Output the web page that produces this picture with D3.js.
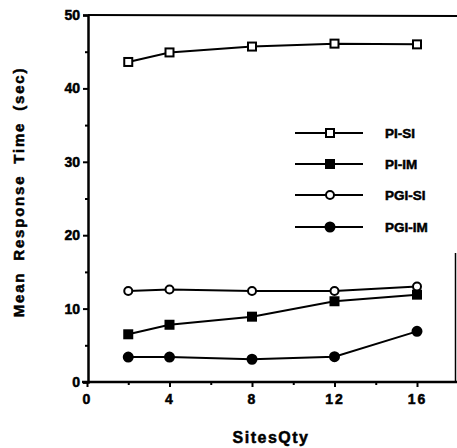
<!DOCTYPE html>
<html><head><meta charset="utf-8">
<script src="https://cdn.jsdelivr.net/npm/d3@7"></script>
<style>body{margin:0;background:#fff}svg{display:block}text{font-family:"Liberation Sans",Arial,sans-serif;font-weight:bold;fill:#000;stroke:#000;stroke-width:0.5}</style>
</head><body>
<svg id="c" width="457" height="448"></svg>
<script>
const sites = [2, 4, 8, 12, 16];
const piSI  = [43.6, 44.9, 45.7, 46.1, 46.0];
const piIM  = [6.5, 7.8, 8.9, 11.0, 11.9];
const pgiSI = [12.4, 12.6, 12.4, 12.4, 13.0];
const pgiIM = [3.4, 3.4, 3.1, 3.45, 6.9];
const seriesNames = ["PI-SI", "PI-IM", "PGI-SI", "PGI-IM"];
const xTicks = [0, 4, 8, 12, 16];
const yTicks = [0, 10, 20, 30, 40, 50];

const series = [
  {name: seriesNames[0], vals: piSI,  shape: "square", fill: "#fff"},
  {name: seriesNames[1], vals: piIM,  shape: "square", fill: "#000"},
  {name: seriesNames[2], vals: pgiSI, shape: "circle", fill: "#fff"},
  {name: seriesNames[3], vals: pgiIM, shape: "circle", fill: "#000"}
];

const svg = d3.select("#c");
const x = d3.scaleLinear().domain([0, 16]).range([87, 417]);
const y = d3.scaleLinear().domain([0, 50]).range([382, 15]);

// frame top & right
svg.append("line").attr("x1", 88).attr("x2", 457).attr("y1", 15).attr("y2", 16).attr("stroke", "#000").attr("stroke-width", 2);
svg.append("line").attr("x1", 455.5).attr("x2", 455.5).attr("y1", 253).attr("y2", 382).attr("stroke", "#000").attr("stroke-width", 1.5);

// y axis
const gy = svg.append("g").attr("transform", "translate(88,0)")
  .call(d3.axisLeft(y).tickValues(yTicks).tickSize(5).tickPadding(3));
gy.select(".domain").attr("stroke-width", 2.5);
gy.selectAll(".tick line").attr("stroke-width", 2);
gy.selectAll(".tick text").attr("font-size", 14).attr("font-family", "Liberation Sans").attr("font-weight", "bold");
svg.append("g").attr("transform", "translate(88,0)")
  .call(d3.axisLeft(y).tickValues([5, 15, 25, 35, 45]).tickSize(3).tickFormat(""))
  .call(g => g.select(".domain").remove())
  .selectAll("line").attr("stroke-width", 2);

// x axis
const gx = svg.append("g").attr("transform", "translate(0,382)")
  .call(d3.axisBottom(x).tickValues(xTicks).tickSize(5).tickPadding(7));
gx.select(".domain").remove();
gx.selectAll(".tick line").attr("stroke-width", 2);
gx.selectAll(".tick text").attr("font-size", 14).attr("font-family", "Liberation Sans").attr("font-weight", "bold").attr("letter-spacing", 2);
svg.append("line").attr("x1", 82).attr("x2", 457).attr("y1", 382).attr("y2", 382).attr("stroke", "#000").attr("stroke-width", 2.5);
svg.append("g").attr("transform", "translate(0,382)")
  .call(d3.axisBottom(x).tickValues([2, 6, 10, 14]).tickSize(3).tickFormat(""))
  .call(g => g.select(".domain").remove())
  .selectAll("line").attr("stroke-width", 2);

// axis titles
svg.append("text").attr("x", 271).attr("y", 443).attr("text-anchor", "middle").attr("font-size", 16).attr("letter-spacing", 1.5).text("SitesQty");
svg.append("text").attr("transform", "translate(24,192) rotate(-90)").attr("text-anchor", "middle").attr("font-size", 15).attr("letter-spacing", 1.8).attr("word-spacing", 5).text("Mean Response Time (sec)");

function marker(g, s, cx, cy) {
  if (s.shape === "square") {
    g.append("rect").attr("x", cx - 4).attr("y", cy - 4).attr("width", 8).attr("height", 8)
      .attr("fill", s.fill).attr("stroke", "#000").attr("stroke-width", 2);
  } else {
    g.append("circle").attr("cx", cx).attr("cy", cy).attr("r", s.fill === "#000" ? 4.5 : 4)
      .attr("fill", s.fill).attr("stroke", "#000").attr("stroke-width", 2);
  }
}

const line = d3.line().x(d => x(d[0])).y(d => y(d[1]));
series.forEach(s => {
  const pts = sites.map((v, i) => [v, s.vals[i]]);
  svg.append("path").attr("d", line(pts)).attr("fill", "none").attr("stroke", "#000").attr("stroke-width", 2);
  const g = svg.append("g");
  pts.forEach(p => marker(g, s, x(p[0]), y(p[1])));
});

// legend
const legY = [133, 164, 195, 227];
series.forEach((s, i) => {
  const g = svg.append("g");
  g.append("line").attr("x1", 295).attr("x2", 363).attr("y1", legY[i]).attr("y2", legY[i]).attr("stroke", "#000").attr("stroke-width", 2);
  marker(g, s, 330, legY[i]);
  g.append("text").attr("x", 385).attr("y", legY[i] + 5).attr("font-size", 13.5).text(s.name);
});
</script>
</body></html>
